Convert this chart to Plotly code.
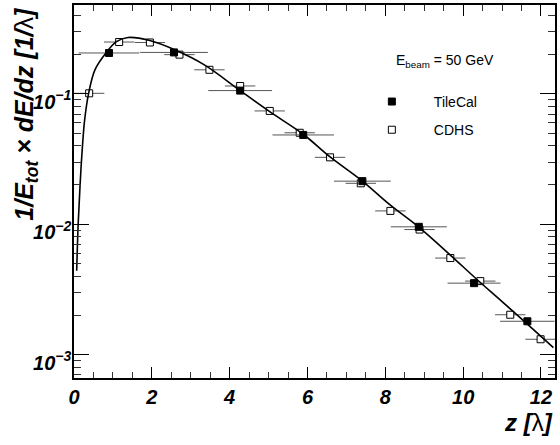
import plotly.graph_objects as go

# ---- data ----
tile_z = [0.90, 2.57, 4.27, 5.89, 7.41, 8.86, 10.28, 11.65]
tile_val = [0.206, 0.208, 0.106, 0.0484, 0.0214, 0.00955, 0.00353, 0.00180]
tile_halfwidth = [0.78, 0.87, 0.82, 0.79, 0.73, 0.72, 0.68, 0.70]

cdhs_z = [0.39, 1.16, 1.95, 2.71, 3.48, 4.27, 5.03, 5.80, 6.58, 7.37, 8.13, 8.88, 9.67, 10.44, 11.21, 11.99]
cdhs_val = [0.101, 0.250, 0.248, 0.200, 0.153, 0.115, 0.074, 0.0503, 0.0326, 0.0206, 0.01265, 0.0091, 0.0055, 0.00366, 0.00202, 0.00131]
cdhs_halfwidth = [0.39] * len(cdhs_z)

fit_z = [0.069, 0.107, 0.154, 0.205, 0.273, 0.376, 0.538, 0.82, 1.09, 1.39, 1.95, 2.59, 3.35, 4.27, 5.03,
         5.89, 6.58, 7.41, 8.13, 8.86, 9.67, 10.34, 11.0, 11.65, 12.32]
fit_val = [0.0044, 0.0100, 0.0194, 0.035, 0.063, 0.101, 0.153, 0.206, 0.252, 0.271, 0.257, 0.218, 0.167, 0.106, 0.073,
           0.049, 0.0328, 0.0214, 0.0140, 0.0095, 0.0058, 0.0038, 0.00255, 0.00171, 0.00113]

x_tick_step = 2
x_minor_step = 0.5
y_major = [1e-3, 1e-2, 1e-1]
y_major_text = ["10<sup>−3</sup>", "10<sup>−2</sup>", "10<sup>−1</sup>"]

FONT = "Liberation Sans"
bi = dict(family=FONT, size=20, color="black", weight="bold", style="italic")

fig = go.Figure()
fig.add_trace(go.Scatter(
    x=cdhs_z, y=cdhs_val, mode="markers", name="CDHS", legendgroup="b", legendrank=2,
    marker=dict(symbol="square", size=7, color="white", line=dict(color="black", width=1)),
    error_x=dict(type="data", array=cdhs_halfwidth, color="#555555", thickness=1, width=0),
))
fig.add_trace(go.Scatter(
    x=tile_z, y=tile_val, mode="markers", name="TileCal", legendgroup="a", legendrank=1,
    marker=dict(symbol="square", size=7, color="black", line=dict(color="black", width=1)),
    error_x=dict(type="data", array=tile_halfwidth, color="#555555", thickness=1, width=0),
))
fig.add_trace(go.Scatter(
    x=fit_z, y=fit_val, mode="lines", showlegend=False,
    line=dict(color="black", width=1.6, shape="spline", smoothing=1.0),
))

fig.update_layout(
    width=560, height=445,
    margin=dict(l=74, r=3, t=5, b=67),
    paper_bgcolor="white", plot_bgcolor="white",
    font=dict(family=FONT, color="black"),
    legend=dict(x=0.5735, y=0.783, xanchor="left", yanchor="top",
                bgcolor="rgba(0,0,0,0)", font=dict(family=FONT, size=14),
                itemwidth=74, tracegroupgap=7, traceorder="grouped"),
    xaxis=dict(range=[0, 12.36], showgrid=False, zeroline=False,
               showline=True, linecolor="black", linewidth=1.5, mirror="allticks",
               ticks="inside", tickmode="linear", tick0=0, dtick=x_tick_step, ticklen=11,
               tickcolor="black", tickwidth=1.2,
               minor=dict(ticks="inside", tick0=0, dtick=x_minor_step, ticklen=6,
                          tickcolor="#333333", tickwidth=1.2, showgrid=False),
               tickfont=bi),
    yaxis=dict(type="log", range=[-3.18, -0.318], showgrid=False, zeroline=False,
               showline=True, linecolor="black", linewidth=1.5, mirror="allticks",
               ticks="inside", tickmode="array", tickvals=y_major, ticktext=y_major_text,
               ticklen=15, tickcolor="black", tickwidth=1.2,
               minor=dict(ticks="inside", dtick="D1", ticklen=7,
                          tickcolor="#333333", tickwidth=1.2, showgrid=False),
               tickfont=bi, ticklabelstandoff=-3, ticklabelshift=8),
    annotations=[
        dict(text="1/E<sub>tot</sub> × dE/dz [1/<span style=\"font-weight:normal;font-style:normal\">λ</span>]",
             xref="paper", yref="paper", x=-0.1005, y=1.0, xanchor="center", yanchor="top",
             textangle=-90, showarrow=False, font=dict(family=FONT, size=25, weight="bold", style="italic")),
        dict(text="z [<span style=\"font-weight:normal;font-style:normal\">λ</span>]",
             xref="paper", yref="paper", x=1.0, y=-0.1206, xanchor="right", yanchor="middle",
             showarrow=False, font=dict(family=FONT, size=24, weight="bold", style="italic")),
        dict(text="E<sub>beam</sub> = 50 GeV", xref="paper", yref="paper",
             x=0.6646, y=0.8507, xanchor="left", yanchor="middle", showarrow=False,
             font=dict(family=FONT, size=14)),
    ],
)

fig.write_html("out.html", config={"displayModeBar": False},
               post_script="document.body.style.margin='0';")
